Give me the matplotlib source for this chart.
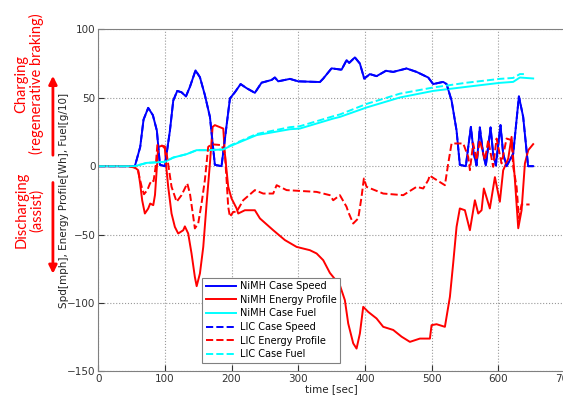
import matplotlib
matplotlib.use('Agg')
import matplotlib.pyplot as plt

# Velocidade (mesmo ciclo para os dois casos)
t_speed = [0, 55, 63, 68, 75, 82, 88, 92.6, 100, 107.6, 112.6, 118.6, 125, 131.6, 137.6, 146,
           152.6, 160, 167.6, 175, 185, 191.6, 197.6, 205, 213.6, 222.6, 235, 245, 260, 265,
           270, 287.6, 300, 332.5, 337.5, 350, 365, 372.6, 376.5, 385, 392.5, 399, 407.5,
           417.5, 431.5, 442.5, 462.5, 477.5, 495, 502.4, 517.4, 522.5, 530, 537.5, 542.4,
           551.4, 555, 559, 563.4, 567.5, 572.4, 577.4, 581.4, 588.5, 592.4, 596.4, 603.4,
           607.4, 612.5, 622.4, 631, 637.4, 644.8, 652.4]
speed = [0, 0, 14, 34, 42.6, 37.3, 26, 1, 0, 26, 48, 55, 54, 51, 58, 70,
         65, 52, 36, 1, 0, 26, 49.5, 54, 60, 57, 53.6, 61, 63, 64.8,
         62, 63.8, 62, 61.5, 64, 71.5, 70.5, 77.5, 75.5, 79.5, 75, 64, 67.3,
         65.8, 69.7, 68.9, 71.4, 68.9, 64.8, 60, 61.6, 60, 48, 26, 1,
         0, 14, 28.7, 9, 0.5, 28.3, 9, 0.5, 28.3, 9, 0.5, 30,
         9, 0, 9, 51, 36, 0, 0]

# Combustivel [g/10]
t_fuel = [0, 55, 72.7, 100, 112.6, 132.7, 147.7, 162.7, 187.6, 197.6, 237.6, 287.6, 302.5,
          352.5, 362.5, 402.5, 452.5, 502.4, 552.5, 602.4, 622.4, 632.4, 652.4]
nimh_fuel = [0, 0, 2.4, 3.2, 6.3, 8.8, 11.7, 11.7, 12.2, 14.6, 22.7, 27, 27.5,
             34.8, 36, 42.9, 50.2, 55, 58, 60.9, 61.6, 64.8, 64.1]
t_fuel_lic = [0, 55, 72.7, 100, 112.6, 132.7, 147.7, 162.7, 187.6, 197.6, 237.6, 287.6, 302.5,
              352.5, 362.5, 402.5, 452.5, 502.4, 552.5, 602.4, 622.4, 632.4, 642]
lic_fuel = [0, 0, 2.4, 3.2, 6.3, 8.8, 11.7, 11.7, 12.2, 15, 23.5, 28.5, 29.2,
            36.5, 37.8, 45.5, 53, 57.5, 61, 63.8, 64.5, 67.3, 67.3]

# Perfil de energia [Wh]
t_nimh_e = [0, 45, 55, 60, 63, 66, 70, 75, 78, 82.6, 85.2, 87.7, 90, 96, 100, 102, 105, 110,
            115, 120, 127.6, 130, 135, 140, 145, 147.7, 152.6, 157.6, 162.6, 167.6, 171.6,
            175, 187.6, 190, 195, 200, 207.6, 210, 220, 235, 242.6, 262.5, 280, 297.6,
            317.5, 327.6, 337.5, 347.5, 362.5, 370, 375, 382.5, 387.5, 392.5, 397.5, 405,
            417.5, 427.5, 442.5, 455, 467.5, 482.5, 497.5, 500, 507.5, 520, 527.5, 532.4,
            537.5, 542.4, 550, 557.5, 565, 570, 575, 578.4, 587.4, 595, 602.4, 607.4, 615,
            620, 625, 630, 635, 640, 645, 652.4]
nimh_e = [0, 0, -1, -3, -13, -25, -34.6, -31, -27.3, -28.5, -21, -3, 14, 15, 13, 0, -15, -34.6,
          -44.4, -49.2, -46.8, -44, -49.2, -63.8, -81, -87.7, -78.4, -59, -27.3, 2, 28.7,
          30, 27.5, 9.3, -15, -23.6, -30.9, -34.6, -32.2, -32.2, -38.2, -46.8, -54, -59,
          -61.4, -63.8, -68.7, -78, -87, -98, -115, -129.5, -133.3, -122.3, -102.8, -106.5,
          -111.3, -117.4, -119.7, -124.6, -128.4, -126, -126, -116.2, -115.5, -117.4, -95.5, -71.1,
          -44.3, -30.9, -32.2, -46.8, -24.9, -34.6, -32.2, -16.3, -30.9, -8, -26, -3, 5.6,
          21.4, -10, -45.4, -32.2, 2, 11.7, 16.1]

t_lic_e = [0, 45, 55, 60, 65.2, 68.7, 73.7, 77.7, 81.2, 83, 86.2, 88.7, 100, 102.6, 110, 117.6,
           125, 133.6, 137.6, 142.6, 145, 150, 155, 160, 165, 170, 185, 190, 192.6, 195, 197.6,
           202.6, 207.6, 217.5, 235, 247.5, 262.5, 267.6, 282.6, 327.6, 347.5, 352.5, 362.5,
           372.5, 375, 382.5, 390, 395, 398.5, 402.5, 427.5, 457.5, 477.5, 487.5, 495, 497.5,
           500, 520, 525, 530, 547.5, 555, 557.5, 562.4, 567.5, 572.4, 580, 585, 592.4, 597.5,
           605, 612.5, 620, 622.5, 627.5, 631, 635, 647]
lic_e = [0, 0, -1, -4, -15, -20.5, -17.5, -12.6, -10.2, -11, -0.5, 15.4, 14.5, 9.3, -15, -26,
         -21.2, -12.6, -20, -37, -45.5, -41.9, -27.3, -10.2, 14.1, 16, 15.4, 9.3, -10.2, -29.7, -37,
         -33.4, -33.4, -24.9, -17.5, -20, -20, -13.9, -17.5, -18.8, -21.2, -24.9, -21.2,
         -29.7, -33.4, -41.9, -38.2, -22.4, -9, -15.1, -20, -21.2, -15.1, -16.3, -10.2, -6.6,
         -7.8, -13.9, 2, 16.6, 16.6, 6.8, -2.9, 16.6, 4.4, 19, 4.4, 19, -0.5, 20.2,
         2, 20.2, 19, -0.5, -15, -38, -28, -28]

xticks = [0, 100, 200, 300, 400, 500, 600, 700]
yticks = [-150, -100, -50, 0, 50, 100]

fig = plt.figure(figsize=(5.63, 3.95), dpi=100)
ax = fig.add_axes([0.1744, 0.0597, 0.829, 0.866])

lw = 1.4
ax.plot(t_speed, speed, color='#0000ff', lw=lw, label='NiMH Case Speed')
ax.plot(t_nimh_e, nimh_e, color='#ff0000', lw=lw, label='NiMH Energy Profile')
ax.plot(t_fuel, nimh_fuel, color='#00ffff', lw=lw, label='NiMH Case Fuel')
ax.plot(t_speed, speed, color='#0000ff', lw=lw, ls='--', label='LIC Case Speed')
ax.plot(t_lic_e, lic_e, color='#ff0000', lw=lw, ls='--', label='LIC Energy Profile')
ax.plot(t_fuel_lic, lic_fuel, color='#00ffff', lw=lw, ls='--', label='LIC Case Fuel')

ax.set_xlim(0, 700)
ax.set_ylim(-150, 100)
ax.set_xticks(xticks)
ax.set_yticks(yticks)
ax.grid(True, ls=':', color='#999999', lw=0.8)
ax.tick_params(direction='in', length=4, labelsize=7.5, colors='#333333', pad=2)
for s in ax.spines.values():
    s.set_color('#808080')

ax.set_xlabel('time [sec]', fontsize=7.5, color='#222222', labelpad=0)
ax.set_ylabel('Spd[mph], Energy Profile[Wh], Fuel[g/10]', fontsize=7.5, color='#222222')
ax.yaxis.set_label_coords(-0.0615, 0.5)

leg = ax.legend(loc='lower left', bbox_to_anchor=(0.223, 0.025), borderaxespad=0,
                fontsize=7, fancybox=False, framealpha=1, edgecolor='#808080',
                handlelength=3.1, handletextpad=0.4, labelspacing=0.38, borderpad=0.35)
leg.get_frame().set_linewidth(0.8)

# Anotacoes em vermelho
fig.text(0.0515, 0.787, 'Charging\n(regenerative braking)', rotation=90, color='red',
         fontsize=10.5, family='Lato', ha='center', va='center', multialignment='center',
         linespacing=1.1)
fig.text(0.0515, 0.468, 'Discharging\n(assist)', rotation=90, color='red',
         fontsize=10.5, family='Lato', ha='center', va='center', multialignment='center',
         linespacing=1.1)
fig.add_artist(matplotlib.patches.FancyArrowPatch((0.094, 0.60), (0.094, 0.815),
               transform=fig.transFigure, arrowstyle='-|>', mutation_scale=12,
               color='red', lw=2))
fig.add_artist(matplotlib.patches.FancyArrowPatch((0.094, 0.545), (0.094, 0.30),
               transform=fig.transFigure, arrowstyle='-|>', mutation_scale=12,
               color='red', lw=2))

fig.savefig('out.png', dpi=100)
